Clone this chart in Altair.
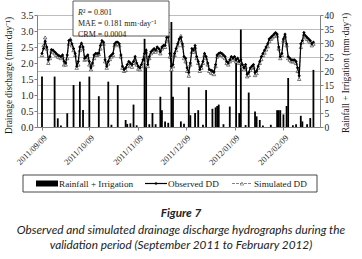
import altair as alt
import pandas as pd

# ---------------- data ----------------
start_date = "2011-09-09"

obs_dd = [
    2.30, 2.45, 2.68, 2.50, 2.10, 2.20, 2.42, 2.40, 2.35, 2.30,
    2.25, 2.22, 2.20, 2.25, 2.05, 2.00, 2.25, 2.70, 2.72, 2.60,
    2.45, 2.30, 1.90, 2.05, 2.50, 2.62, 2.50, 2.15, 2.20, 2.25,
    2.05, 1.85, 2.00, 2.25, 2.30, 2.30, 2.30, 2.55, 2.70, 2.65,
    2.10, 1.90, 2.05, 2.20, 2.25, 2.30, 2.60, 2.65, 2.65, 2.60,
    2.25, 1.90, 1.80, 1.85, 1.95, 2.05, 2.00, 1.95, 2.05, 2.20,
    2.00, 1.90, 1.85, 1.95, 2.10, 2.30, 2.40, 1.95, 2.20, 2.35,
    2.40, 2.45, 2.40, 2.50, 2.45, 2.35, 2.50, 2.55, 2.55, 2.80,
    2.95, 2.30, 1.90, 1.95, 2.30, 2.45, 2.60, 2.75, 2.80, 2.60,
    2.20, 2.15, 1.85, 1.70, 2.00, 2.45, 2.40, 2.55, 2.20, 2.05,
    1.80, 1.90, 2.05, 2.30, 2.20, 2.00, 1.80, 1.78, 1.75, 1.72,
    1.95, 2.25, 2.30, 2.32, 2.30, 2.25, 2.20, 2.05, 2.00, 2.10,
    2.20, 2.15, 2.20, 2.10, 2.15, 2.05, 2.10, 1.95, 1.85, 1.95,
    1.65, 1.70, 1.85, 1.90, 1.95, 1.70, 1.75, 1.90, 2.05, 2.20,
    2.30, 2.40, 2.50, 2.60, 2.75, 2.80, 2.85, 2.90, 2.95, 2.90,
    2.50, 2.20, 2.30, 2.75, 2.90, 2.60, 2.20, 2.15, 2.10, 2.10,
    2.10, 2.05, 1.85, 1.60, 2.60, 2.70, 2.95, 2.85, 2.80, 2.75,
    2.70, 2.60, 2.65,
]

sim_dd = [
    2.25, 2.55, 2.80, 2.45, 2.00, 2.15, 2.38, 2.35, 2.30, 2.25,
    2.20, 2.18, 2.15, 2.20, 1.95, 1.95, 2.15, 2.60, 2.75, 2.55,
    2.40, 2.25, 1.85, 1.95, 2.40, 2.55, 2.45, 2.10, 2.12, 2.20,
    1.95, 1.80, 1.95, 2.15, 2.25, 2.25, 2.28, 2.45, 2.65, 2.60,
    2.05, 1.85, 1.98, 2.12, 2.20, 2.25, 2.55, 2.60, 2.60, 2.55,
    2.20, 1.85, 1.75, 1.78, 1.90, 2.00, 1.92, 1.88, 2.00, 2.12,
    1.95, 1.82, 1.80, 1.90, 2.05, 2.25, 2.35, 1.90, 2.15, 2.30,
    2.35, 2.40, 2.35, 2.45, 2.40, 2.30, 2.45, 2.50, 2.50, 2.70,
    2.85, 2.20, 1.80, 1.90, 2.25, 2.40, 2.55, 2.70, 2.85, 2.55,
    2.15, 2.05, 1.75, 1.60, 1.95, 2.35, 2.35, 2.50, 2.15, 2.00,
    1.75, 1.85, 2.00, 2.25, 2.15, 1.95, 1.75, 1.70, 1.68, 1.65,
    1.90, 2.20, 2.25, 2.28, 2.25, 2.20, 2.15, 2.00, 1.95, 2.05,
    2.15, 2.10, 2.15, 2.05, 2.10, 2.00, 2.05, 1.90, 1.80, 1.88,
    1.58, 1.62, 1.78, 1.85, 1.88, 1.62, 1.68, 1.85, 2.00, 2.12,
    2.25, 2.32, 2.42, 2.52, 2.68, 2.75, 2.80, 2.85, 2.90, 2.85,
    2.45, 2.15, 2.25, 2.70, 2.85, 2.55, 2.15, 2.10, 2.05, 2.05,
    2.05, 2.00, 1.75, 1.50, 2.50, 2.65, 2.90, 2.80, 2.75, 2.70,
    2.65, 2.55, 2.60,
]

rain_day = [0, 8, 10, 12, 16, 20, 24, 26, 30, 36, 42, 44, 48, 53, 54, 56, 58, 60,
            65, 66, 68, 70, 72, 75, 76, 78, 80, 82, 83, 88, 90, 93, 94, 97, 99,
            102, 104, 108, 110, 111, 112, 115, 119, 123, 125, 126, 129, 131, 135,
            136, 138, 140, 145, 149, 150, 151, 153, 155, 156, 159, 161, 164, 165,
            168, 170, 172]
rain_mm = [18.0, 18.0, 3.1, 0.5, 4.9, 15.0, 16.2, 6.1, 18.0, 11.0, 16.2, 0.8, 15.0,
           2.5, 1.1, 1.3, 8.0, 0.6, 31.5, 21.5, 1.0, 5.0, 1.0, 10.8, 6.0, 2.0, 1.5,
           37.5, 10.8, 2.0, 1.2, 14.2, 4.2, 5.0, 6.0, 0.8, 13.2, 6.5, 7.0, 7.5, 8.0,
           1.0, 7.3, 24.5, 5.0, 34.8, 0.7, 12.3, 5.5, 3.8, 2.5, 0.5, 0.8, 6.0, 6.0,
           6.0, 4.5, 7.5, 17.5, 0.6, 1.0, 4.0, 2.0, 1.0, 3.2, 20.4]

tick_dates = [(2011, 9, 9), (2011, 10, 9), (2011, 11, 9), (2011, 12, 9),
              (2012, 1, 9), (2012, 2, 9)]
x_domain = [(2011, 9, 9), (2012, 2, 29)]
left_ticks = [0, 0.5, 1.0, 1.5, 2.0, 2.5, 3.0, 3.5]
right_ticks = [0, 5, 10, 15, 20, 25, 30, 35, 40]

left_title = "Drainage discharge (mm·day⁻¹)"
right_title = "Rainfall + Irrigation (mm·day⁻¹)"
stats_r2 = "² = 0.801"
stats_lines = ["MAE = 0.181 mm·day⁻¹", "CRM = 0.0004"]
legend_labels = ["Rainfall + Irrigation", "Observed DD", "Simulated DD"]
fig_label = "Figure 7"
caption_lines = ["Observed and simulated drainage discharge hydrographs during the",
                 "validation period (September 2011 to February 2012)"]

# ---------------- tables ----------------
start = pd.Timestamp(start_date)
dates = [(start + pd.Timedelta(days=i)).strftime("%Y/%m/%d") for i in range(len(obs_dd))]
dd = pd.DataFrame({"date": dates, "obs": obs_dd, "sim": sim_dd})
rain = pd.DataFrame({
    "date": [(start + pd.Timedelta(days=d)).strftime("%Y/%m/%d") for d in rain_day],
    "rain": rain_mm,
})
one = pd.DataFrame({"k": [0]})

SERIF = "Liberation Serif"
SANS = "Lato"
INK = "#1a1a1a"
AX = "#808080"


def dt(t):
    return alt.DateTime(year=t[0], month=t[1], date=t[2])


xenc = alt.X(
    "date:T", title=None,
    scale=alt.Scale(domain=[dt(x_domain[0]), dt(x_domain[1])]),
    axis=alt.Axis(values=[dt(t) for t in tick_dates], format="%Y/%m/%d",
                  labelAngle=315, labelAlign="right", labelBaseline="top",
                  tickSize=3, labelPadding=3, grid=False,
                  domainColor=AX, tickColor=AX, labelFont=SERIF,
                  labelFontSize=8.5, labelColor=INK, labelOverlap=False),
)

bars = alt.Chart(rain).mark_bar(color="black", size=1.8).encode(
    x=xenc,
    y=alt.Y("rain:Q", scale=alt.Scale(domain=[0, 40], nice=False),
            axis=alt.Axis(orient="right", values=right_ticks, title=right_title,
                          grid=True, gridColor="#bdbdbd", gridWidth=1,
                          domainColor=AX, tickColor=AX, tickSize=3, labelPadding=1,
                          labelFont=SERIF, labelFontSize=9.5, labelColor=INK,
                          titleFont=SERIF, titleFontSize=9.3, titleFontWeight="normal",
                          titleColor=INK, titleAngle=270, titleBaseline="middle",
                          titleX=25, titleY=57.5)),
)

yleft = alt.Scale(domain=[0, 3.5], nice=False)
left_axis = alt.Axis(orient="left", values=left_ticks, format=".1f",
                     title=left_title, grid=False,
                     domainColor=AX, tickColor=AX, tickSize=3, labelPadding=1,
                     labelFont=SERIF, labelFontSize=10, labelColor=INK,
                     titleFont=SERIF, titleFontSize=9.3, titleFontWeight="normal",
                     titleColor=INK, titleAngle=270, titleBaseline="middle",
                     titleX=-29, titleY=60)

sim = alt.Chart(dd).mark_line(
    color="#666666", strokeWidth=0.8, strokeDash=[3, 1],
    point=alt.OverlayMarkDef(shape="triangle-up", filled=True, fill="white",
                             stroke="#444444", strokeWidth=0.7, size=12),
).encode(x=xenc, y=alt.Y("sim:Q", scale=yleft, axis=left_axis))

obs = alt.Chart(dd).mark_line(
    color="black", strokeWidth=1.2,
    point=alt.OverlayMarkDef(shape="diamond", filled=True, color="black", size=11),
).encode(x=xenc, y=alt.Y("obs:Q", scale=yleft, axis=left_axis))

lines = alt.layer(sim, obs)

# ---------------- stats box ----------------
box = alt.Chart(one).mark_rect(fill="white", stroke="#333333", strokeWidth=0.8).encode(
    x=alt.value(36), x2=alt.value(132), y=alt.value(-14), y2=alt.value(21))
r_txt = alt.Chart(one).mark_text(align="left", font=SERIF, fontSize=8, fontStyle="italic",
                                 color=INK).encode(x=alt.value(41), y=alt.value(-2.5),
                                                   text=alt.value("R"))
r2_txt = alt.Chart(one).mark_text(align="left", font=SERIF, fontSize=8, color=INK).encode(
    x=alt.value(46), y=alt.value(-2.5), text=alt.value(stats_r2))
s1 = alt.Chart(one).mark_text(align="left", font=SERIF, fontSize=8, color=INK).encode(
    x=alt.value(41), y=alt.value(9), text=alt.value(stats_lines[0]))
s2 = alt.Chart(one).mark_text(align="left", font=SERIF, fontSize=8, color=INK).encode(
    x=alt.value(41), y=alt.value(20), text=alt.value(stats_lines[1]))

# ---------------- legend ----------------
LF = 9.2
lg_box = alt.Chart(one).mark_rect(fill="white", stroke="#333333", strokeWidth=0.9).encode(
    x=alt.value(-14), x2=alt.value(280), y=alt.value(160), y2=alt.value(177))
lg_sw = alt.Chart(one).mark_rect(color="black").encode(
    x=alt.value(-1), x2=alt.value(21), y=alt.value(165.5), y2=alt.value(171.5))
lg_t1 = alt.Chart(one).mark_text(align="left", baseline="middle", font=SERIF, fontSize=LF,
                                 color=INK).encode(x=alt.value(22), y=alt.value(168.5),
                                                   text=alt.value(legend_labels[0]))
lg_l2 = alt.Chart(one).mark_rule(color="black", strokeWidth=1.2).encode(
    x=alt.value(108), x2=alt.value(130), y=alt.value(168.5))
lg_p2 = alt.Chart(one).mark_point(shape="diamond", filled=True, color="black", size=14).encode(
    x=alt.value(119), y=alt.value(168.5))
lg_t2 = alt.Chart(one).mark_text(align="left", baseline="middle", font=SERIF, fontSize=LF,
                                 color=INK).encode(x=alt.value(131), y=alt.value(168.5),
                                                   text=alt.value(legend_labels[1]))
lg_l3 = alt.Chart(one).mark_rule(color="#666666", strokeWidth=0.8, strokeDash=[3, 1]).encode(
    x=alt.value(195), x2=alt.value(215), y=alt.value(168.5))
lg_p3 = alt.Chart(one).mark_point(shape="triangle-up", filled=True, fill="white",
                                  stroke="#444444", strokeWidth=0.7, size=13).encode(
    x=alt.value(205), y=alt.value(168.5))
lg_t3 = alt.Chart(one).mark_text(align="left", baseline="middle", font=SERIF, fontSize=LF,
                                 color=INK).encode(x=alt.value(217), y=alt.value(168.5),
                                                   text=alt.value(legend_labels[2]))

# ---------------- caption ----------------
CF = 11.8
cap0 = alt.Chart(one).mark_text(align="center", baseline="middle", font=SANS, fontSize=CF,
                                fontStyle="italic", fontWeight="bold", color="#222222").encode(
    x=alt.value(144), y=alt.value(198), text=alt.value(fig_label))
cap1 = alt.Chart(one).mark_text(align="center", baseline="middle", font=SANS, fontSize=CF,
                                fontStyle="italic", color="#222222").encode(
    x=alt.value(144), y=alt.value(215), text=alt.value(caption_lines[0]))
cap2 = alt.Chart(one).mark_text(align="center", baseline="middle", font=SANS, fontSize=CF,
                                fontStyle="italic", color="#222222").encode(
    x=alt.value(144), y=alt.value(230), text=alt.value(caption_lines[1]))

chart = alt.layer(
    bars, lines, box, r_txt, r2_txt, s1, s2,
    lg_box, lg_sw, lg_t1, lg_l2, lg_p2, lg_t2, lg_l3, lg_p3, lg_t3,
    cap0, cap1, cap2,
).resolve_scale(y="independent").properties(
    width=283, height=112,
    padding={"left": 37, "top": 15, "right": 42, "bottom": 132},
    autosize=alt.AutoSizeParams(type="none"),
    background="white",
).configure_view(stroke=None)

chart.save("out.html", embed_options={"renderer": "svg", "actions": False})
